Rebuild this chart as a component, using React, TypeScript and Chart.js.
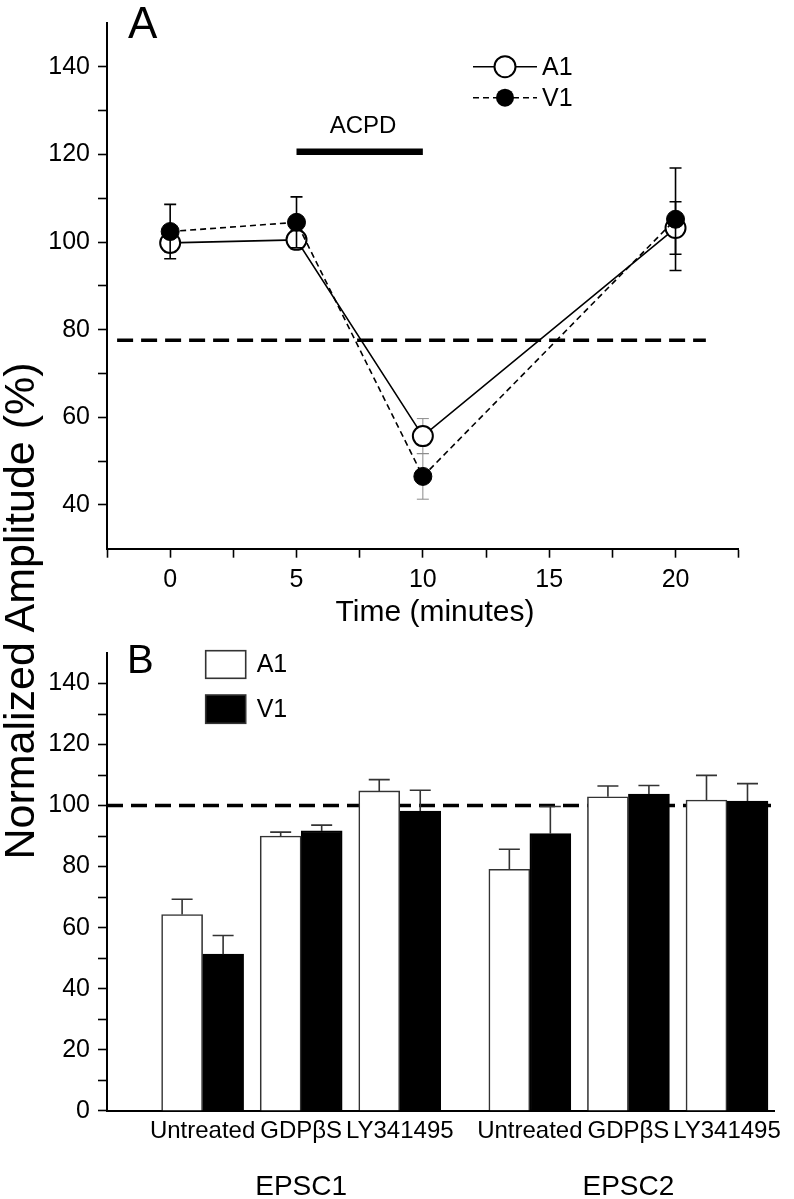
import React, { useEffect, useRef } from 'react';
import { Chart, registerables } from 'chart.js';

Chart.register(...registerables);

const FONT = '"Liberation Sans", Arial, Helvetica, sans-serif';

// ---------- Panel A data ----------
const timePoints = [0, 5, 10, 20];
const a1Mean = [99.8, 100.5, 55.7, 103.2];
const a1Sem = [2.0, 2.0, 4.0, 6.0];
const v1Mean = [102.4, 104.5, 46.5, 105.2];
const v1Sem = [6.2, 5.8, 5.2, 11.7];
const thresholdLevel = 77.6;
const thresholdFrom = -2.1;
const thresholdTo = 21.2;
const acpdStart = 5;
const acpdEnd = 10;
const acpdLevel = 120.6;

// ---------- Panel B data ----------
const treatments = ['Untreated', 'GDPβS', 'LY341495'];
const epscGroups = ['EPSC1', 'EPSC2'];
const barA1Mean = [64.3, 90.0, 104.8, 79.1, 102.9, 101.8];
const barA1Sem = [5.0, 1.3, 3.7, 6.6, 3.5, 8.1];
const barV1Mean = [51.3, 91.7, 98.2, 90.8, 103.8, 101.5];
const barV1Sem = [6.1, 1.9, 6.8, 8.9, 2.8, 5.7];
const baselineLevel = 100;

// layout of the grouped category axis (slot units)
const GROUP_STRIDE = 3.32;
const barX = epscGroups.flatMap((_, gi) => treatments.map((__, ti) => gi * GROUP_STRIDE + ti));
const barLabels = epscGroups.flatMap(() => treatments);

function drawErrorBar(ctx: CanvasRenderingContext2D, x: number, y1: number, y2: number, capW: number, color: string, lw: number, capTop: boolean, capBottom: boolean) {
  ctx.save();
  ctx.strokeStyle = color;
  ctx.lineWidth = lw;
  ctx.setLineDash([]);
  ctx.beginPath();
  ctx.moveTo(x, y1);
  ctx.lineTo(x, y2);
  if (capTop) {
    ctx.moveTo(x - capW / 2, y1);
    ctx.lineTo(x + capW / 2, y1);
  }
  if (capBottom) {
    ctx.moveTo(x - capW / 2, y2);
    ctx.lineTo(x + capW / 2, y2);
  }
  ctx.stroke();
  ctx.restore();
}

const panelAPlugin = {
  id: 'panelA',
  beforeDatasetsDraw(chart: any) {
    const { ctx } = chart;
    const x = chart.scales.x;
    const y = chart.scales.y;
    ctx.save();
    ctx.strokeStyle = '#000';
    ctx.lineWidth = 3.5;
    ctx.setLineDash([16, 8]);
    ctx.beginPath();
    const ty = y.getPixelForValue(thresholdLevel);
    ctx.moveTo(x.getPixelForValue(thresholdFrom), ty);
    ctx.lineTo(x.getPixelForValue(thresholdTo), ty);
    ctx.stroke();
    ctx.setLineDash([]);
    ctx.lineWidth = 6.5;
    ctx.beginPath();
    const ay = y.getPixelForValue(acpdLevel);
    ctx.moveTo(x.getPixelForValue(acpdStart), ay);
    ctx.lineTo(x.getPixelForValue(acpdEnd), ay);
    ctx.stroke();
    ctx.restore();
  },
  beforeDatasetDraw(chart: any, args: any) {
    const { ctx } = chart;
    const y = chart.scales.y;
    const ds = chart.data.datasets[args.index];
    const meta = chart.getDatasetMeta(args.index);
    const errs: number[] = ds.errors;
    meta.data.forEach((pt: any, i: number) => {
      const m = ds.data[i].y;
      const top = y.getPixelForValue(m + errs[i]);
      const bot = y.getPixelForValue(m - errs[i]);
      const during = timePoints[i] === acpdEnd;
      drawErrorBar(ctx, pt.x, top, bot, 12, during ? '#8c8c8c' : '#000', during ? 1 : 1.6, true, true);
    });
  },
  afterDraw(chart: any) {
    const { ctx } = chart;
    ctx.save();
    ctx.fillStyle = '#000';
    ctx.textBaseline = 'alphabetic';
    ctx.textAlign = 'left';
    ctx.font = `44px ${FONT}`;
    ctx.fillText('A', 128, 38);
    ctx.font = `24px ${FONT}`;
    ctx.textAlign = 'center';
    ctx.fillText('ACPD', 363, 133);
    ctx.font = `30px ${FONT}`;
    ctx.textBaseline = 'middle';
    ctx.fillText('Time (minutes)', 435, 613);

    // legend
    const lx1 = 473, lx2 = 537, cx = 505;
    const ly1 = 66.7, ly2 = 97.7;
    ctx.strokeStyle = '#000';
    ctx.lineWidth = 1.6;
    ctx.setLineDash([]);
    ctx.beginPath();
    ctx.moveTo(lx1, ly1);
    ctx.lineTo(lx2, ly1);
    ctx.stroke();
    ctx.beginPath();
    ctx.arc(cx, ly1, 10.5, 0, Math.PI * 2);
    ctx.fillStyle = '#fff';
    ctx.fill();
    ctx.lineWidth = 2;
    ctx.stroke();
    ctx.setLineDash([6, 4]);
    ctx.lineWidth = 1.6;
    ctx.beginPath();
    ctx.moveTo(lx1, ly2);
    ctx.lineTo(lx2, ly2);
    ctx.stroke();
    ctx.setLineDash([]);
    ctx.beginPath();
    ctx.arc(cx, ly2, 9, 0, Math.PI * 2);
    ctx.fillStyle = '#000';
    ctx.fill();
    ctx.font = `25px ${FONT}`;
    ctx.textAlign = 'left';
    ctx.textBaseline = 'middle';
    ctx.fillText('A1', 542, ly1 + 1);
    ctx.fillText('V1', 542, ly2 + 1);
    ctx.restore();
  },
};

const panelBPlugin = {
  id: 'panelB',
  beforeDatasetsDraw(chart: any) {
    const { ctx, chartArea } = chart;
    const y = chart.scales.y;
    ctx.save();
    ctx.strokeStyle = '#000';
    ctx.lineWidth = 3.5;
    ctx.setLineDash([16, 8]);
    const by = y.getPixelForValue(baselineLevel);
    ctx.beginPath();
    ctx.moveTo(chartArea.left, by);
    ctx.lineTo(chartArea.right + 1.5, by);
    ctx.stroke();
    ctx.restore();
  },
  afterDatasetsDraw(chart: any) {
    const { ctx } = chart;
    const y = chart.scales.y;
    chart.data.datasets.forEach((ds: any, di: number) => {
      const meta = chart.getDatasetMeta(di);
      meta.data.forEach((bar: any, i: number) => {
        const m = ds.data[i].y;
        const top = y.getPixelForValue(m + ds.errors[i]);
        const base = y.getPixelForValue(m);
        drawErrorBar(ctx, bar.x, top, base, 21, '#333', 1.6, true, false);
      });
    });
  },
  afterDraw(chart: any) {
    const { ctx } = chart;
    const x = chart.scales.x;
    ctx.save();
    ctx.fillStyle = '#000';
    ctx.textAlign = 'left';
    ctx.textBaseline = 'alphabetic';
    ctx.font = `40px ${FONT}`;
    ctx.fillText('B', 127, 43.3);

    // legend
    ctx.lineWidth = 1.6;
    ctx.strokeStyle = '#333';
    ctx.fillStyle = '#fff';
    ctx.fillRect(205.7, 20.7, 40, 27.6);
    ctx.strokeRect(205.7, 20.7, 40, 27.6);
    ctx.fillStyle = '#000';
    ctx.fillRect(205.7, 65, 40, 28.3);
    ctx.strokeRect(205.7, 65, 40, 28.3);
    ctx.font = `25px ${FONT}`;
    ctx.textBaseline = 'middle';
    ctx.fillText('A1', 256.7, 35);
    ctx.fillText('V1', 256.7, 80);

    // group labels
    ctx.font = `28px ${FONT}`;
    ctx.textAlign = 'center';
    ctx.textBaseline = 'alphabetic';
    epscGroups.forEach((g, gi) => {
      const cx = x.getPixelForValue(gi * GROUP_STRIDE + (treatments.length - 1) / 2);
      ctx.fillText(g, cx, 565);
    });
    ctx.restore();
  },
};

function makeChartA(canvas: HTMLCanvasElement) {
  return new Chart(canvas, {
    type: 'line',
    data: {
      datasets: [
        {
          label: 'V1',
          data: timePoints.map((t, i) => ({ x: t, y: v1Mean[i] })),
          errors: v1Sem,
          borderColor: '#000',
          borderWidth: 1.6,
          borderDash: [6, 4],
          pointRadius: 9,
          pointBackgroundColor: '#000',
          pointBorderColor: '#000',
          pointBorderWidth: 1,
          fill: false,
          tension: 0,
          order: 0,
        } as any,
        {
          label: 'A1',
          data: timePoints.map((t, i) => ({ x: t, y: a1Mean[i] })),
          errors: a1Sem,
          borderColor: '#000',
          borderWidth: 1.6,
          pointRadius: 10,
          pointBackgroundColor: '#fff',
          pointBorderColor: '#000',
          pointBorderWidth: 2,
          fill: false,
          tension: 0,
          order: 1,
        } as any,
      ],
    },
    options: {
      responsive: false,
      animation: false,
      events: [],
      layout: { padding: { left: 0, top: 16, right: 55.3, bottom: 0 } },
      plugins: { legend: { display: false }, tooltip: { enabled: false } },
      scales: {
        x: {
          type: 'linear',
          min: -2.5,
          max: 22.5,
          ticks: {
            stepSize: 2.5,
            autoSkip: false,
            maxRotation: 0,
            minRotation: 0,
            padding: 7,
            color: '#000',
            font: { family: FONT, size: 25 },
            callback: (v: any) => (Number(v) % 5 === 0 ? String(v) : ''),
          },
          grid: { drawOnChartArea: false, drawTicks: true, tickLength: 9, tickWidth: 1.6, tickColor: '#000' },
          border: { display: true, color: '#000', width: 2 },
          afterFit: (s: any) => {
            s.height = 91.3;
          },
        },
        y: {
          type: 'linear',
          min: 30,
          max: 150,
          ticks: {
            stepSize: 10,
            autoSkip: false,
            padding: 8,
            color: '#000',
            font: { family: FONT, size: 25 },
            callback: (v: any) => (Number(v) % 20 === 0 && v > 30 && v < 150 ? String(v) : ''),
          },
          grid: {
            drawOnChartArea: false,
            drawTicks: true,
            tickLength: 9,
            tickWidth: 1.6,
            tickColor: (c: any) => (c.tick && (c.tick.value === 30 || c.tick.value === 150) ? 'rgba(0,0,0,0)' : '#000'),
          },
          border: { display: true, color: '#000', width: 2 },
          afterFit: (s: any) => {
            s.width = 107;
          },
        },
      },
    } as any,
    plugins: [panelAPlugin],
  });
}

function makeChartB(canvas: HTMLCanvasElement) {
  return new Chart(canvas, {
    type: 'bar',
    data: {
      datasets: [
        {
          label: 'A1',
          data: barX.map((x, i) => ({ x, y: barA1Mean[i] })),
          errors: barA1Sem,
          backgroundColor: '#fff',
          borderColor: '#333',
          borderWidth: 1.6,
          barThickness: 41,
        } as any,
        {
          label: 'V1',
          data: barX.map((x, i) => ({ x, y: barV1Mean[i] })),
          errors: barV1Sem,
          backgroundColor: '#000',
          borderColor: '#000',
          borderWidth: 1.6,
          barThickness: 41,
        } as any,
      ],
    },
    options: {
      responsive: false,
      animation: false,
      events: [],
      layout: { padding: { left: 0, top: 9, right: 19.7, bottom: 0 } },
      plugins: { legend: { display: false }, tooltip: { enabled: false } },
      scales: {
        x: {
          type: 'linear',
          min: -0.97,
          max: 5.8,
          offset: false,
          afterBuildTicks: (s: any) => {
            s.ticks = barX.map((v) => ({ value: v }));
          },
          ticks: {
            autoSkip: false,
            maxRotation: 0,
            minRotation: 0,
            padding: 6,
            color: '#000',
            font: { family: FONT, size: 24 },
            callback: (_v: any, i: number) => barLabels[i],
          },
          grid: { display: false, drawTicks: false, offset: false },
          border: { display: true, color: '#000', width: 2 },
          afterFit: (s: any) => {
            s.height = 88.3;
          },
        },
        y: {
          type: 'linear',
          min: 0,
          max: 150,
          ticks: {
            stepSize: 10,
            autoSkip: false,
            padding: 8,
            color: '#000',
            font: { family: FONT, size: 25 },
            callback: (v: any) => (Number(v) % 20 === 0 && v < 150 ? String(v) : ''),
          },
          grid: {
            drawOnChartArea: false,
            drawTicks: true,
            tickLength: 9,
            tickWidth: 1.6,
            tickColor: (c: any) => (c.tick && c.tick.value === 150 ? 'rgba(0,0,0,0)' : '#000'),
          },
          border: { display: true, color: '#000', width: 2 },
          afterFit: (s: any) => {
            s.width = 107;
          },
        },
      },
    } as any,
    plugins: [panelBPlugin],
  });
}

export default function App() {
  const refA = useRef<HTMLCanvasElement>(null);
  const refB = useRef<HTMLCanvasElement>(null);

  useEffect(() => {
    const a = makeChartA(refA.current as HTMLCanvasElement);
    const b = makeChartB(refB.current as HTMLCanvasElement);
    return () => {
      a.destroy();
      b.destroy();
    };
  }, []);

  return (
    <div style={{ position: 'absolute', left: 0, top: 0, width: 794, height: 1199, background: '#fff', overflow: 'hidden' }}>
      <canvas ref={refA} width={794} height={640} style={{ position: 'absolute', left: 0, top: 0 }} />
      <canvas ref={refB} width={794} height={569} style={{ position: 'absolute', left: 0, top: 630 }} />
      <div
        style={{
          position: 'absolute',
          left: 19 - 300,
          top: 611 - 21,
          width: 600,
          height: 42,
          lineHeight: '42px',
          textAlign: 'center',
          fontFamily: FONT,
          fontSize: 43,
          color: '#000',
          whiteSpace: 'nowrap',
          transform: 'rotate(-90deg)',
        }}
      >
        Normalized Amplitude (%)
      </div>
    </div>
  );
}
